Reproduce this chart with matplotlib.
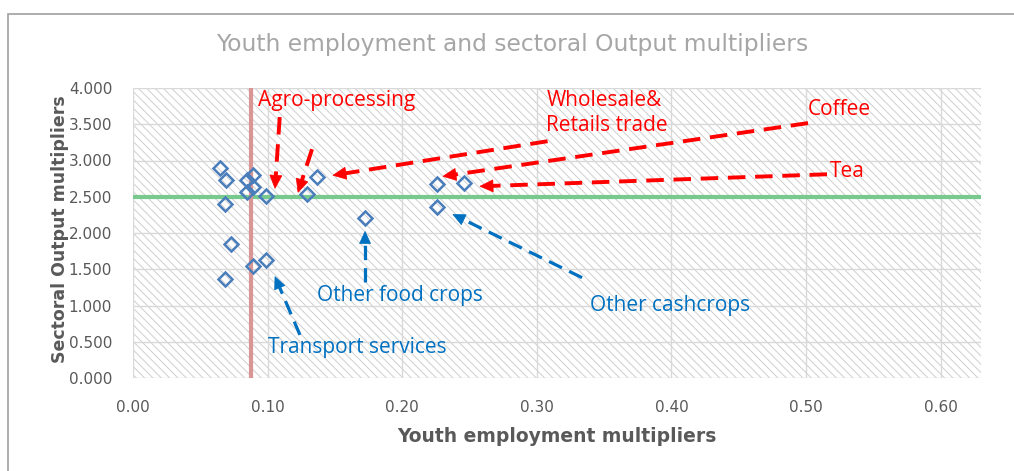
import matplotlib
matplotlib.use("Agg")
import matplotlib.pyplot as plt
from matplotlib.patches import Rectangle, Polygon
import numpy as np

# youth employment vs sectoral output multipliers
youth_mult = [0.065, 0.069, 0.085, 0.089, 0.085, 0.089, 0.099, 0.068, 0.073,
              0.089, 0.099, 0.068, 0.129, 0.137, 0.172, 0.226, 0.246, 0.226]
output_mult = [2.893, 2.727, 2.731, 2.796, 2.561, 2.634, 2.505, 2.404, 1.855,
               1.550, 1.623, 1.366, 2.542, 2.772, 2.206, 2.671, 2.689, 2.357]

avg_youth = 0.088
avg_output = 2.5

x_ticks = [0.0, 0.1, 0.2, 0.3, 0.4, 0.5, 0.6]
y_ticks = [0.0, 0.5, 1.0, 1.5, 2.0, 2.5, 3.0, 3.5, 4.0]

# label text, label position, arrows (start, tip)
red_labels = [
    ("Agro-processing", (0.093, 3.834)),
    ("Wholesale&\nRetails trade", (0.307, 3.654)),
    ("Coffee", (0.5015, 3.709)),
    ("Tea", (0.518, 2.851)),
]
red_arrows = [
    ((0.109, 3.599), (0.1055, 2.616)),
    ((0.133, 3.156), (0.1226, 2.561)),
    ((0.308, 3.266), (0.1486, 2.796)),
    ((0.5015, 3.516), (0.2303, 2.782)),
    ((0.5156, 2.810), (0.2578, 2.644)),
]
blue_labels = [
    ("Other food crops", (0.137, 1.135)),
    ("Other cashcrops", (0.3395, 0.997)),
    ("Transport services", (0.100, 0.415)),
]
blue_arrows = [
    ((0.124, 0.595), (0.1055, 1.398)),
    ((0.1724, 1.329), (0.1724, 2.021)),
    ((0.3336, 1.384), (0.2377, 2.256)),
]

RED = "#ff0000"
BLUE = "#0070c0"
GRAY = "#595959"

plt.rcParams["hatch.linewidth"] = 0.7
plt.rcParams["hatch.color"] = "#cfcfcf"

fig = plt.figure(figsize=(10.14, 4.71), dpi=100)
fig.patches.append(Rectangle((8 / 1014, -0.1), 1.2, (471 - 14) / 471 + 0.1,
                             transform=fig.transFigure, fill=False,
                             edgecolor="#a0a0a0", linewidth=1.2))
ax = fig.add_axes([133 / 1014, (471 - 378) / 471, 848 / 1014, 290 / 471])
ax.set_xlim(0, 0.63)
ax.set_ylim(0, 4.0)

ax.add_patch(Rectangle((0, 0), 1, 1, transform=ax.transAxes, facecolor="white",
                       hatch="\\\\\\\\", edgecolor="#cfcfcf", linewidth=0, zorder=0))

for s in ax.spines.values():
    s.set_visible(False)
ax.set_xticks(x_ticks)
ax.set_yticks(y_ticks)
ax.set_xticklabels([f"{v:.2f}" for v in x_ticks])
ax.set_yticklabels([f"{v:.3f}" for v in y_ticks])
ax.tick_params(length=0, labelsize=11, labelcolor=GRAY)
ax.tick_params(axis="x", pad=16)
ax.tick_params(axis="y", pad=15)
ax.grid(True, color="#d9d9d9", linewidth=1, zorder=1)
ax.set_axisbelow(True)

ax.axhline(avg_output, color="#77c98e", linewidth=3, zorder=2)
ax.axvline(avg_youth, color="#d99694", linewidth=3, zorder=2)

ax.plot(youth_mult, output_mult, linestyle="none", marker="D", markersize=7.5,
        markerfacecolor="none", markeredgecolor="#4a7ebb", markeredgewidth=1.8,
        zorder=4)

fig.canvas.draw()


def dashed_arrow(start, tip, color, lw, head, half_w):
    p0 = ax.transData.transform(start)
    p1 = ax.transData.transform(tip)
    d = p1 - p0
    d = d / np.hypot(*d)
    n = np.array([-d[1], d[0]])
    b = p1 - d * head
    inv = ax.transData.inverted()
    base = inv.transform(b + d * 1)
    ax.plot([start[0], base[0]], [start[1], base[1]], color=color, linewidth=lw,
            dashes=(4.5, 2.5), dash_capstyle="butt", zorder=5)
    verts = inv.transform(np.array([p1, b + n * half_w, b - n * half_w]))
    ax.add_patch(Polygon(verts, closed=True, facecolor=color, edgecolor=color,
                         linewidth=0.5, zorder=5))


for start, tip in red_arrows:
    dashed_arrow(start, tip, RED, 2.8, 13, 6)
for start, tip in blue_arrows:
    dashed_arrow(start, tip, BLUE, 2.3, 12, 5.5)

for text, (x, y) in red_labels:
    ax.text(x, y, text, color=RED, fontsize=15, family="Open Sans", ha="left",
            va="center", linespacing=1.25, zorder=6)
for text, (x, y) in blue_labels:
    ax.text(x, y, text, color=BLUE, fontsize=15, family="Open Sans", ha="left",
            va="center", zorder=6)

fig.text(512 / 1014, 1 - 45 / 471, "Youth employment and sectoral Output multipliers",
         ha="center", va="center", fontsize=16.8, color="#a6a6a6")
fig.text(557 / 1014, 1 - 437 / 471, "Youth employment multipliers",
         ha="center", va="center", fontsize=13.5, color=GRAY, fontweight="bold")
fig.text(60 / 1014, 1 - 229 / 471, "Sectoral Output multipliers", rotation=90,
         ha="center", va="center", fontsize=12.5, color=GRAY, fontweight="bold")

fig.savefig("out.png", dpi=100)
